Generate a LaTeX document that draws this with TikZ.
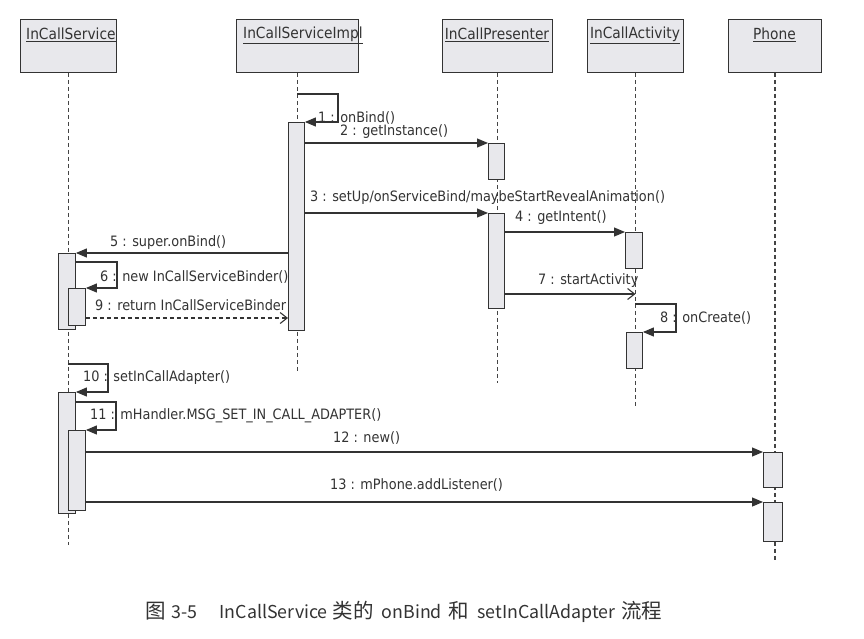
\documentclass[tikz,border=0pt]{standalone}
\usepackage{fontspec}
\setmainfont{DejaVu Sans}
\newfontfamily\tah{DejaVu Sans}[FakeStretch=0.9]
\newfontfamily\cjk{Noto Sans CJK SC}
\usetikzlibrary{arrows.meta}
\definecolor{ink}{HTML}{333333}
\definecolor{boxfill}{HTML}{E8E8EC}
\definecolor{lifeink}{HTML}{444444}
\newcommand{\capcjk}[1]{{\fontsize{20.5}{24}\selectfont #1}}
\begin{document}
\begin{tikzpicture}[x=1pt,y=-1pt,
  obj/.style={draw=ink, fill=boxfill, line width=0.9pt, anchor=north west, inner sep=0pt, minimum height=53pt},
  hdr/.style={font=\tah\fontsize{15.3}{18}\selectfont, text=ink, inner sep=0pt},
  life/.style={draw=lifeink, line width=1.1pt, dash pattern=on 4pt off 3pt},
  actbox/.style={draw=ink, fill=boxfill, line width=0.9pt, anchor=north west, inner sep=0pt, minimum width=16pt},
  msg/.style={draw=ink, line width=1.1pt, -{Triangle[length=11pt,width=9pt]}},
  asyncmsg/.style={draw=ink, line width=1.1pt, -{Straight Barb[length=7pt,width=11pt]}},
  retmsg/.style={asyncmsg, dash pattern=on 4pt off 3pt},
  lbl/.style={font=\tah\fontsize{14.3}{17}\selectfont, text=ink, anchor=west, inner sep=0pt, text height=11pt, text depth=3pt},
  captext/.style={font=\cjk\fontsize{17.8}{22}\selectfont, text=ink, anchor=west, inner sep=0pt},
]
\useasboundingbox[fill=white] (0,0) rectangle (864,638);

% object boxes
\node[obj, minimum width=96pt] (svc) at (20,19) {};
\node[obj, minimum width=122pt] (impl) at (236,19) {};
\node[obj, minimum width=110pt] (pres) at (442,19) {};
\node[obj, minimum width=96pt] (act) at (587,19) {};
\node[obj, minimum width=93pt] (phone) at (728,19) {};
\node[hdr, anchor=west] (svcL) at (26,35) {\underline{InCallService}};
\node[hdr, anchor=west] (implL) at (243,35) {\underline{InCallServiceImpl}};
\node[hdr] (presL) at (497,35) {\underline{InCallPresenter}};
\node[hdr] (actL) at (635,35) {\underline{InCallActivity}};
\node[hdr] (phoneL) at (774.5,35) {\underline{Phone}};

% lifelines
\coordinate (svcEnd) at (0,545);
\coordinate (implEnd) at (0,373);
\coordinate (presEnd) at (0,383);
\coordinate (actEnd) at (0,407);
\coordinate (phoneEnd) at (0,562);
\draw[life] (svc.south) -- (svc.south |- svcEnd);
\draw[life] (impl.south) -- (impl.south |- implEnd);
\draw[life] (pres.south) -- (pres.south |- presEnd);
\draw[life] (act.south) -- (act.south |- actEnd);
\draw[life] (phone.south) -- (phone.south |- phoneEnd);

% activations
\node[actbox, minimum height=208pt] (implA) at (288,122) {};
\node[actbox, minimum height=36pt] (presA1) at (488,143) {};
\node[actbox, minimum height=95pt] (presA2) at (488,213) {};
\node[actbox, minimum width=17pt, minimum height=36pt] (actA1) at (625,232) {};
\node[actbox, minimum height=36pt] (actA2) at (626,332) {};
\node[actbox, minimum width=17pt, minimum height=76pt] (svcA1) at (58,253) {};
\node[actbox, minimum width=17pt, minimum height=37pt] (svcN1) at (68,288) {};
\node[actbox, minimum width=17pt, minimum height=121pt] (svcA2) at (58,392) {};
\node[actbox, minimum width=17pt, minimum height=80pt] (svcN2) at (68,430) {};
\node[actbox, minimum width=19pt, minimum height=35pt] (phA1) at (763,452) {};
\node[actbox, minimum width=19pt, minimum height=39pt] (phA2) at (763,502) {};

% messages
\draw[msg] (impl.south |- 0,94) -- (338,94) |- (implA.north east);
\node[lbl] (m1) at (318,118) {1 : onBind()};
\draw[msg] (implA.east |- presA1.north) -- (presA1.north west);
\node[lbl] (m2) at (340,131) {2 : getInstance()};
\draw[msg] (implA.east |- presA2.north) -- (presA2.north west);
\node[lbl] (m3) at (310,197) {3 : setUp/onServiceBind/maybeStartRevealAnimation()};
\draw[msg] (presA2.east |- actA1.north) -- (actA1.north west);
\node[lbl] (m4) at (515,217) {4 : getIntent()};
\draw[msg] (implA.west |- svcA1.north) -- (svcA1.north east);
\node[lbl] (m5) at (110,242) {5 : super.onBind()};
\draw[msg] (svcA1.east |- 0,262) -- (117,262) |- (svcN1.north east);
\node[lbl] (m6) at (100,277) {6 : new InCallServiceBinder()};
\draw[asyncmsg] (presA2.east |- 0,294) -- (act.south |- 0,294);
\node[lbl] (m7) at (538,280) {7 : startActivity};
\draw[msg] (act.south |- 0,304) -- (676,304) |- (actA2.north east);
\node[lbl] (m8) at (660,318) {8 : onCreate()};
\draw[retmsg] (svcN1.east |- 0,318) -- (implA.west |- 0,318);
\node[lbl] (m9) at (95,306) {9 : return InCallServiceBinder};
\draw[msg] (svc.south |- 0,364) -- (108,364) |- (svcA2.north east);
\node[lbl] (m10) at (83,377) {10 : setInCallAdapter()};
\draw[msg] (svcA2.east |- 0,402) -- (116,402) |- (svcN2.north east);
\node[lbl] (m11) at (90,415) {11 : mHandler.MSG\_SET\_IN\_CALL\_ADAPTER()};
\draw[msg] (svcN2.east |- phA1.north) -- (phA1.north west);
\node[lbl] (m12) at (333,438) {12 : new()};
\draw[msg] (svcN2.east |- phA2.north) -- (phA2.north west);
\node[lbl] (m13) at (330,485) {13 : mPhone.addListener()};

% caption
\node[captext] (cap) at (145,612) {\capcjk{图}\hspace{6pt}3-5\hspace{22pt}InCallService\hspace{5pt}\capcjk{类的}\hspace{8pt}onBind\hspace{7pt}\capcjk{和}\hspace{8pt}setInCallAdapter\hspace{6pt}\capcjk{流程}};
\end{tikzpicture}
\end{document}
